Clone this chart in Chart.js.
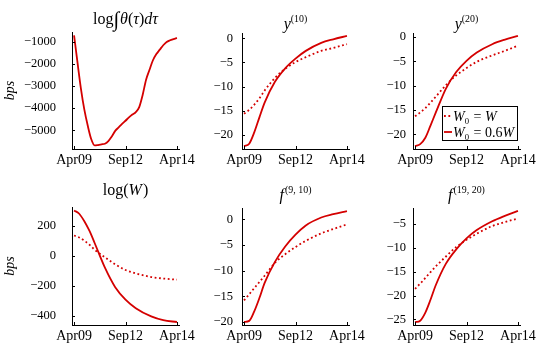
<!DOCTYPE html>
<html>
<head>
<meta charset="utf-8">
<script src="https://cdn.jsdelivr.net/npm/chart.js@4.4.0/dist/chart.umd.min.js"></script>
<style>
    body { margin: 0; background: #fff; }
    #wrap { position: relative; width: 540px; height: 345px; overflow: hidden; }
    .panel { position: absolute; }
</style>
</head>
<body>
<div id="wrap"></div>
<script>
// x axis: months since Apr09
var xLabels = ["Apr09", "Sep12", "Apr14"];
var xTickMonths = [0, 30, 60];

// top left panel, one series
var thetaMonths = [0, 2, 4, 6, 8, 10, 12, 14, 16, 18, 20, 22, 24, 26, 28, 30,
                   32, 34, 36, 38, 40, 42, 44, 46, 48, 50, 52, 54, 56, 58, 60];
var thetaInt = [-700, -1930, -3110, -4070, -4800, -5400, -5690, -5670, -5640, -5610, -5490,
                -5280, -5030, -4870, -4710, -4570, -4420, -4290, -4180, -3950, -3400,
                -2710, -2260, -1830, -1550, -1350, -1150, -1000, -925, -870, -820];

// the other panels, two series each
var curveMonths = [0, 3, 6, 9, 12, 18, 24, 30, 36, 45, 52, 60];
var logW_W    = [135, 122, 100, 73, 40, -10, -57, -95, -118, -142, -152, -160];
var logW_06W  = [302, 280, 230, 165, 85, -80, -210, -293, -350, -405, -430, -442];
var y10_W     = [-15.6, -14.8, -13.7, -12.4, -10.8, -8.2, -6.3, -4.9, -3.9, -2.6, -2.0, -1.2];
var y10_06W   = [-22.3, -21.8, -19.4, -16.3, -13.3, -9.0, -6.2, -4.2, -2.6, -0.95, -0.2, 0.5];
var y20_W     = [-16.3, -15.5, -14.6, -13.5, -12.3, -9.9, -7.9, -6.4, -5.1, -3.8, -2.9, -1.8];
var y20_06W   = [-22.4, -22.0, -20.7, -18.2, -15.6, -10.6, -7.2, -4.9, -3.2, -1.5, -0.6, 0.2];
var f910_W    = [-15.8, -14.6, -13.4, -12.2, -11.0, -8.5, -6.8, -5.4, -4.2, -2.75, -1.9, -1.0];
var f910_06W  = [-20.0, -19.8, -17.9, -15.3, -12.4, -8.3, -5.3, -3.0, -1.2, 0.35, 1.0, 1.6];
var f1920_W   = [-18.6, -17.5, -16.3, -15.1, -13.9, -11.8, -9.8, -8.3, -7.0, -5.4, -4.6, -3.8];
var f1920_06W = [-25.6, -25.3, -23.6, -20.9, -17.9, -13.3, -10.3, -8.0, -6.25, -4.4, -3.3, -2.2];

var seriesLabels = ["W\u2080 = W", "W\u2080 = 0.6W"];

// y ticks per panel
var yTicks1 = [-5000, -4000, -3000, -2000, -1000];
var yTicks2 = [-20, -15, -10, -5, 0];
var yTicks3 = [-20, -15, -10, -5, 0];
var yTicks4 = [-400, -200, 0, 200];
var yTicks5 = [-20, -15, -10, -5, 0];
var yTicks6 = [-25, -20, -15, -10, -5];

var RED = "#d40000";
var FONT = '"Liberation Serif", "Times New Roman", serif';

function pts(xs, ys) {
    return xs.map(function (x, i) { return {x: x, y: ys[i]}; });
}

function minus(v) {
    return v < 0 ? "\u2212" + Math.abs(v) : String(v);
}

// draws a list of text pieces (italic / superscript / subscript)
function drawMath(ctx, parts, x, base, size, align) {
    var items = parts.map(function (p) {
        var s = size * (p.s || 1);
        if (p.sup || p.sub) s = size * 0.62;
        var font = (p.it ? "italic " : "") + s + "px " + FONT;
        ctx.font = font;
        var dy = p.dy || 0;
        if (p.sup) dy = -size * 0.42;
        if (p.sub) dy = size * 0.22;
        return {t: p.t, font: font, w: ctx.measureText(p.t).width + (p.gap || 0), dy: dy};
    });
    var total = 0;
    items.forEach(function (it) { total += it.w; });
    var cx = align === "left" ? x : x - total / 2;
    ctx.save();
    ctx.fillStyle = "#000";
    ctx.textBaseline = "alphabetic";
    ctx.textAlign = "left";
    items.forEach(function (it) {
        ctx.font = it.font;
        ctx.fillText(it.t, cx, base + it.dy);
        cx += it.w;
    });
    ctx.restore();
}

var inwardTicks = {
    id: "inwardTicks",
    afterDraw: function (chart) {
        var ctx = chart.ctx, a = chart.chartArea;
        var xs = chart.scales.x, ys = chart.scales.y;
        ctx.save();
        ctx.strokeStyle = "#000";
        ctx.lineWidth = 1;
        ctx.beginPath();
        xs.ticks.forEach(function (t) {
            var px = Math.round(xs.getPixelForValue(t.value)) + 0.5;
            ctx.moveTo(px, a.bottom);
            ctx.lineTo(px, a.bottom - 3);
        });
        ys.ticks.forEach(function (t) {
            var py = Math.round(ys.getPixelForValue(t.value)) + 0.5;
            ctx.moveTo(a.left, py);
            ctx.lineTo(a.left + 3, py);
        });
        ctx.stroke();
        ctx.restore();
    }
};

function titlePlugin(parts, base) {
    return {
        id: "mathTitle",
        afterDraw: function (chart) {
            var a = chart.chartArea;
            drawMath(chart.ctx, parts, (a.left + a.right) / 2, base, 16);
        }
    };
}

var innerLegend = {
    id: "innerLegend",
    afterDraw: function (chart) {
        var ctx = chart.ctx, a = chart.chartArea;
        var w = 75, h = 34;
        var x0 = a.right - 3 - w, y0 = a.bottom - 9 - h;
        ctx.save();
        ctx.fillStyle = "#fff";
        ctx.fillRect(x0, y0, w, h);
        ctx.strokeStyle = "#000";
        ctx.lineWidth = 1;
        ctx.strokeRect(Math.round(x0) + 0.5, Math.round(y0) + 0.5, w, h);
        var rows = [y0 + 10, y0 + 26];
        chart.data.datasets.forEach(function (ds, i) {
            ctx.strokeStyle = RED;
            ctx.lineWidth = 1.8;
            ctx.setLineDash(ds.borderDash || []);
            ctx.beginPath();
            ctx.moveTo(x0 + 2, rows[i]);
            ctx.lineTo(x0 + 10, rows[i]);
            ctx.stroke();
            ctx.setLineDash([]);
            var rhs = ds.label.split(" = ")[1];
            var parts = [{t: "W", it: 1}, {t: "0", sub: 1, gap: 1}, {t: " = "}];
            if (rhs === "W") parts.push({t: "W", it: 1});
            else parts.push({t: "0.6"}, {t: "W", it: 1});
            drawMath(ctx, parts, x0 + 11, rows[i] + 5, 14, "left");
        });
        ctx.restore();
    }
};

function makeDatasets(dotted, solid) {
    var out = [];
    if (dotted) {
        out.push({
            label: seriesLabels[0], data: pts(curveMonths, dotted),
            borderColor: RED, borderWidth: 1.8, borderDash: [1.8, 2.6],
            pointRadius: 0, cubicInterpolationMode: "monotone", fill: false
        });
    }
    out.push({
        label: seriesLabels[1], data: solid,
        borderColor: RED, borderWidth: 1.8,
        pointRadius: 0, cubicInterpolationMode: "monotone", fill: false
    });
    return out;
}

var panels = [
    {area: [72, 179, 32, 149], yw: 72, pad: 16, bps: true, base: 24, ymin: -5850, ymax: -550, ticks: yTicks1,
     title: [{t: "log"}, {t: "\u222B", s: 1.3, dy: 2, gap: 1}, {t: "\u03B8", it: 1}, {t: "("}, {t: "\u03C4", it: 1}, {t: ")"}, {t: "d", it: 1}, {t: "\u03C4", it: 1}],
     datasets: makeDatasets(null, pts(thetaMonths, thetaInt))},
    {area: [242, 349, 33, 149], yw: 60, pad: 9, base: 29, ymin: -22.9, ymax: 1.1, ticks: yTicks2,
     title: [{t: "y", it: 1}, {t: "(10)", sup: 1}],
     datasets: makeDatasets(y10_W, pts(curveMonths, y10_06W))},
    {area: [413, 520, 33, 149], yw: 60, pad: 7, base: 29, ymin: -23.0, ymax: 0.8, ticks: yTicks3, legend: true,
     title: [{t: "y", it: 1}, {t: "(20)", sup: 1}],
     datasets: makeDatasets(y20_W, pts(curveMonths, y20_06W))},
    {area: [72, 179, 207, 325], yw: 72, pad: 16, bps: true, base: 195, ymin: -462, ymax: 325, ticks: yTicks4,
     title: [{t: "log("}, {t: "W", it: 1, gap: 1}, {t: ")"}],
     datasets: makeDatasets(logW_W, pts(curveMonths, logW_06W))},
    {area: [242, 349, 208, 325], yw: 60, pad: 9, base: 200, ymin: -20.6, ymax: 2.2, ticks: yTicks5,
     title: [{t: "f", it: 1, gap: 1}, {t: "(9, 10)", sup: 1}],
     datasets: makeDatasets(f910_W, pts(curveMonths, f910_06W))},
    {area: [413, 520, 208, 325], yw: 60, pad: 7, base: 200, ymin: -26.2, ymax: -1.6, ticks: yTicks6,
     title: [{t: "f", it: 1, gap: 1}, {t: "(19, 20)", sup: 1}],
     datasets: makeDatasets(f1920_W, pts(curveMonths, f1920_06W))}
];

var wrap = document.getElementById("wrap");
var TOPPAD = 34, XH = 20, RPAD = 30;

panels.forEach(function (p, i) {
    var l = p.area[0], r = p.area[1], t = p.area[2], b = p.area[3];
    var left = l - p.yw, top = t - TOPPAD;
    var w = p.yw + (r - l) + RPAD, h = TOPPAD + (b - t) + XH;
    var div = document.createElement("div");
    div.className = "panel";
    div.style.left = left + "px";
    div.style.top = top + "px";
    div.style.width = w + "px";
    div.style.height = h + "px";
    var canvas = document.createElement("canvas");
    div.appendChild(canvas);
    wrap.appendChild(div);

    var plugins = [inwardTicks, titlePlugin(p.title, p.base - top)];
    if (p.legend) plugins.push(innerLegend);

    new Chart(canvas, {
        type: "line",
        data: {datasets: p.datasets},
        options: {
            responsive: true,
            maintainAspectRatio: false,
            animation: false,
            events: [],
            layout: {padding: {top: TOPPAD, right: RPAD, left: 0, bottom: 0}},
            plugins: {legend: {display: false}, title: {display: false}, tooltip: {enabled: false}},
            scales: {
                x: {
                    type: "linear", min: -1.2, max: 61.2,
                    grid: {display: false, drawTicks: false},
                    border: {display: true, color: "#000", width: 1},
                    afterBuildTicks: function (s) {
                        s.ticks = xTickMonths.map(function (v) { return {value: v}; });
                    },
                    afterFit: function (s) { s.height = XH; s.paddingLeft = 0; s.paddingRight = 0; },
                    ticks: {
                        autoSkip: false, maxRotation: 0, padding: 3, color: "#000",
                        font: {family: FONT, size: 14},
                        callback: function (v) { return xLabels[xTickMonths.indexOf(v)]; }
                    }
                },
                y: {
                    min: p.ymin, max: p.ymax,
                    grid: {display: false, drawTicks: false},
                    border: {display: true, color: "#000", width: 1},
                    afterBuildTicks: function (s) {
                        s.ticks = p.ticks.map(function (v) { return {value: v}; });
                    },
                    afterFit: function (s) { s.width = p.yw; s.paddingTop = 0; s.paddingBottom = 0; },
                    title: {
                        display: !!p.bps, text: "bps", color: "#000",
                        font: {family: FONT, size: 14, style: "italic"}, padding: {top: 2, bottom: 0}
                    },
                    ticks: {
                        padding: p.pad, color: "#000",
                        font: {family: FONT, size: 12.5},
                        callback: function (v) { return minus(v); }
                    }
                }
            }
        },
        plugins: plugins
    });
});
</script>
</body>
</html>
